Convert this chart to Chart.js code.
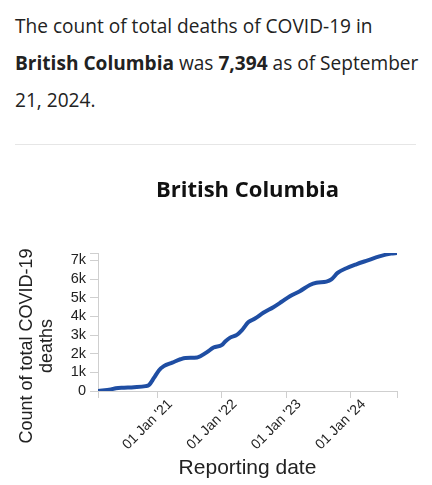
<!DOCTYPE html>
<html>
<head>
<meta charset="utf-8">
<script src="https://cdn.jsdelivr.net/npm/chart.js@4"></script>
<style>
  html, body { margin: 0; padding: 0; background: #fff; }
  body { width: 432px; height: 485px; position: relative; overflow: hidden; }
  .summary {
    position: absolute; left: 15px; top: 8px; width: 406px; margin: 0;
    font-family: "Open Sans", "Noto Sans", sans-serif; font-size: 19.1px; line-height: 37px; color: #222;
  }
  .rule { position: absolute; left: 15px; top: 144px; width: 401px; height: 1px; background: #e6e6e6; }
  #wrap { position: absolute; left: 0; top: 160px; width: 432px; height: 325px; }
</style>
</head>
<body>
<p class="summary">The count of total deaths of COVID-19 in <b>British Columbia</b> was <b>7,394</b> as of September 21, 2024.</p>
<div class="rule"></div>
<div id="wrap"><canvas id="chart" width="432" height="325"></canvas></div>
<script>
const chartTitle = 'British Columbia';
const yTitleLines = ['Count of total COVID-19', 'deaths'];

// reporting dates and cumulative deaths
const dates = [
    '2020-01-31', '2020-04-13', '2020-05-11', '2020-06-27', '2020-08-22', '2020-10-27',
    '2020-11-15', '2020-12-13', '2021-01-10', '2021-02-07', '2021-03-27', '2021-05-12',
    '2021-06-10', '2021-08-15', '2021-09-02', '2021-10-10', '2021-11-16', '2022-01-03',
    '2022-01-21', '2022-02-18', '2022-03-28', '2022-04-25', '2022-06-02', '2022-07-09',
    '2022-08-25', '2022-10-21', '2022-12-07', '2023-01-23', '2023-03-20', '2023-05-16',
    '2023-06-22', '2023-08-18', '2023-09-15', '2023-10-22', '2023-12-09', '2024-02-03',
    '2024-04-08', '2024-06-13', '2024-08-18', '2024-09-21'
];
const deaths = [
    0, 80, 150, 175, 200, 260,
    320, 700, 1100, 1330, 1520, 1700,
    1770, 1790, 1860, 2080, 2330, 2470,
    2650, 2860, 3010, 3250, 3700, 3880,
    4190, 4490, 4780, 5080, 5350, 5680,
    5800, 5860, 5980, 6340, 6580, 6790,
    7000, 7210, 7360, 7394
];
const xTickDates = ['2021-01-01', '2022-01-01', '2023-01-01', '2024-01-01'];
const yTickValues = [0, 1000, 2000, 3000, 4000, 5000, 6000, 7000];

const months = ['Jan', 'Feb', 'Mar', 'Apr', 'May', 'Jun', 'Jul', 'Aug', 'Sep', 'Oct', 'Nov', 'Dec'];
const toTime = s => Date.parse(s + 'T00:00:00Z');

const points = dates.map((d, i) => ({ x: toTime(d), y: deaths[i] }));
const xMin = toTime(dates[0]);
const xMax = toTime(dates[dates.length - 1]);
const yMax = Math.max(...deaths);

function formatDate(t) {
    const d = new Date(t);
    const day = String(d.getUTCDate()).padStart(2, '0');
    return day + ' ' + months[d.getUTCMonth()] + " '" + String(d.getUTCFullYear()).slice(2);
}

function formatK(v) {
    return v === 0 ? '0' : (v / 1000) + 'k';
}

const axisFamily = '"Liberation Sans", Arial, sans-serif';

// chart title centred over the plot, y title centred on the whole chart box
const extraText = {
    id: 'extraText',
    afterDraw(chart) {
        const c = chart.ctx;
        const area = chart.chartArea;
        c.save();
        c.font = 'bold 22px "Open Sans", "Noto Sans", sans-serif';
        c.fillStyle = '#111';
        c.textAlign = 'center';
        c.textBaseline = 'middle';
        c.fillText(chartTitle, (area.left + area.right) / 2, 31);

        c.font = '18px ' + axisFamily;
        c.fillStyle = '#222';
        c.translate(27, 186);
        c.rotate(-Math.PI / 2);
        yTitleLines.forEach((line, i) => c.fillText(line, 0, i * 20));
        c.restore();
    }
};

new Chart(document.getElementById('chart'), {
    type: 'line',
    data: {
        datasets: [{
            data: points,
            borderColor: '#1f4ea3',
            borderWidth: 4,
            pointRadius: 0,
            fill: false,
            cubicInterpolationMode: 'monotone'
        }]
    },
    options: {
        responsive: false,
        animation: false,
        events: [],
        layout: { padding: { top: 93, right: 35, left: 0, bottom: 0 } },
        plugins: { legend: { display: false }, tooltip: { enabled: false } },
        scales: {
            x: {
                type: 'linear',
                min: xMin,
                max: xMax,
                afterBuildTicks: scale => {
                    scale.ticks = [xMin, ...xTickDates.map(toTime), xMax].map(v => ({ value: v }));
                },
                afterFit: scale => { scale.height = 94; },
                border: { color: '#cfcfcf', width: 1 },
                grid: { drawOnChartArea: false, color: '#cfcfcf', tickLength: 7 },
                ticks: {
                    autoSkip: false,
                    minRotation: 45,
                    maxRotation: 45,
                    color: '#222',
                    font: { family: axisFamily, size: 14 },
                    padding: -2,
                    labelOffset: 13,
                    callback: v => (v === xMin || v === xMax) ? '' : formatDate(v)
                },
                title: {
                    display: true,
                    text: 'Reporting date',
                    color: '#222',
                    font: { family: axisFamily, size: 21 },
                    padding: { top: 4, bottom: 4 }
                }
            },
            y: {
                min: 0,
                max: yMax,
                afterBuildTicks: scale => {
                    scale.ticks = [...yTickValues, yMax].map(v => ({ value: v }));
                },
                afterFit: scale => { scale.width = 98; },
                border: { color: '#cfcfcf', width: 1 },
                grid: { drawOnChartArea: false, color: '#cfcfcf', tickLength: 8 },
                ticks: {
                    autoSkip: false,
                    color: '#222',
                    font: { family: axisFamily, size: 14.5 },
                    padding: 4,
                    callback: v => v === yMax ? '' : formatK(v)
                },
                title: { display: false }
            }
        }
    },
    plugins: [extraText]
});
</script>
</body>
</html>
